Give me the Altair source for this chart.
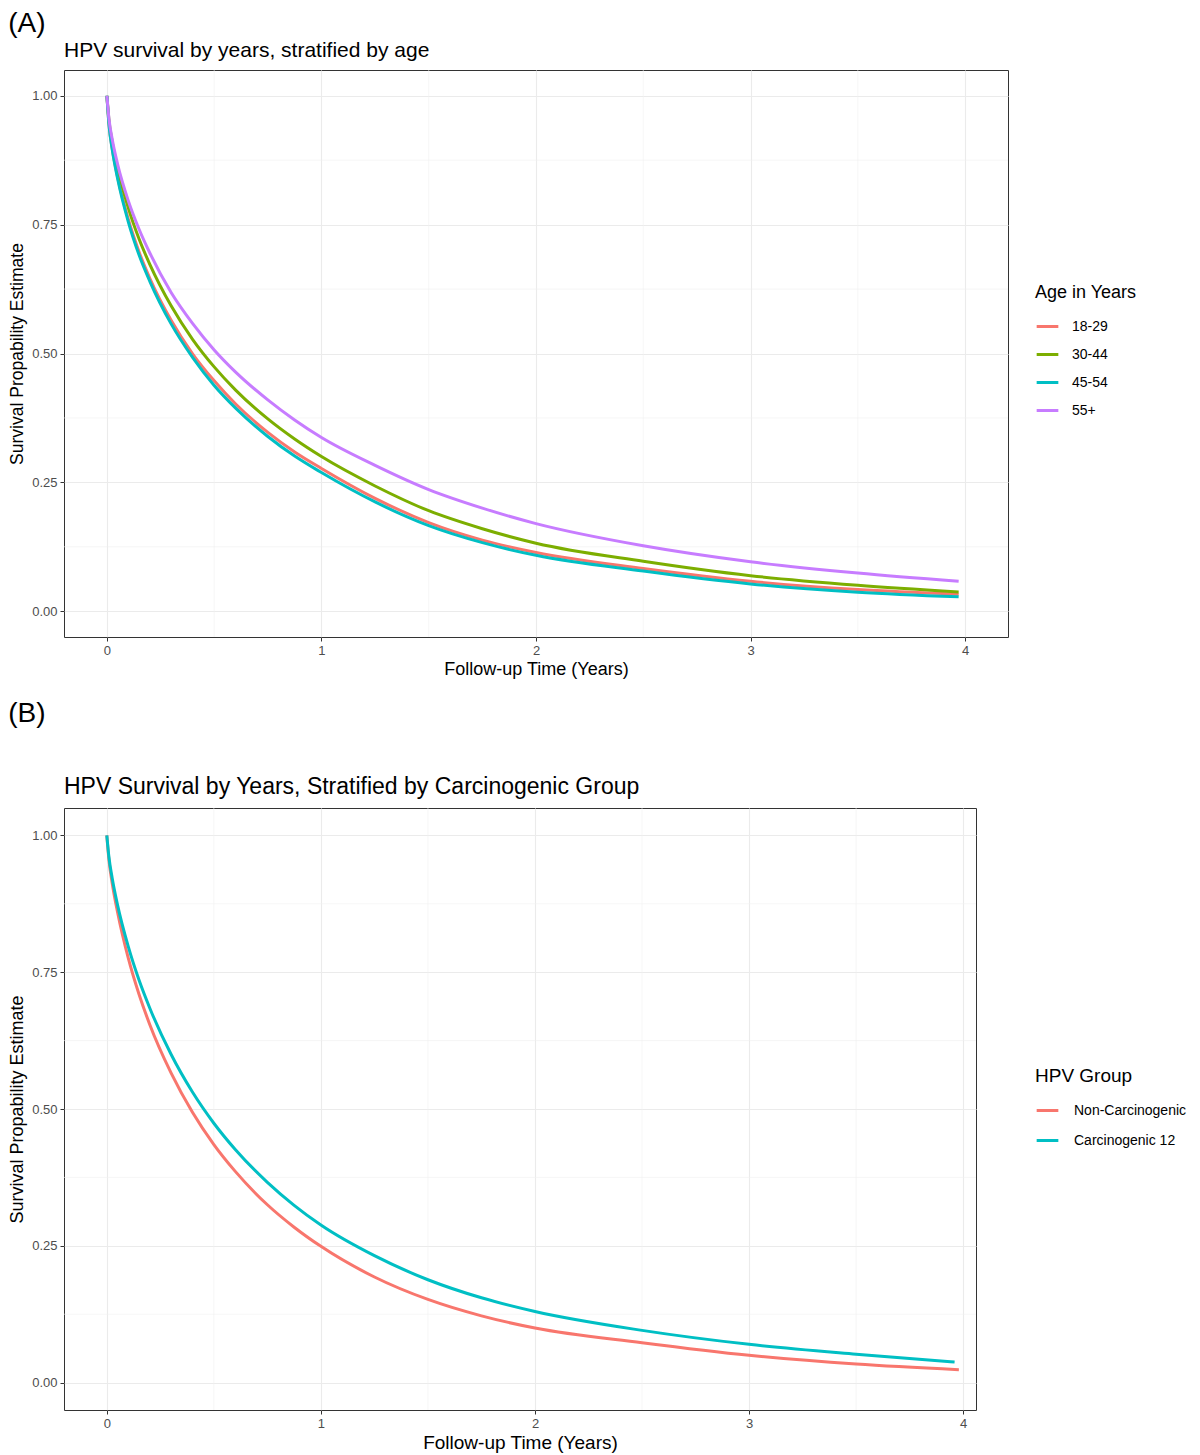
import altair as alt
import pandas as pd

FONT = "Liberation Sans"

# ---- Panel A data ----
TIME_A = [0, 0.01, 0.025, 0.05, 0.1, 0.15, 0.2, 0.3, 0.4, 0.5, 0.6, 0.75, 0.875, 1.0, 1.25, 1.5, 1.75, 2.0, 2.5, 3.0, 3.5, 3.97]
AGE_GROUPS = ["18-29", "30-44", "45-54", "55+"]
AGE_COLORS = ["#F8766D", "#7CAE00", "#00BFC4", "#C77CFF"]
S_18_29 = [1, 0.943, 0.897, 0.842, 0.760, 0.697, 0.646, 0.564, 0.499, 0.447, 0.402, 0.347, 0.309, 0.277, 0.219, 0.172, 0.138, 0.114, 0.083, 0.058, 0.042, 0.033]
S_30_44 = [1, 0.951, 0.910, 0.859, 0.782, 0.722, 0.673, 0.592, 0.527, 0.474, 0.429, 0.373, 0.334, 0.300, 0.243, 0.195, 0.160, 0.132, 0.097, 0.0690, 0.0505, 0.0375]
S_45_54 = [1, 0.942, 0.895, 0.839, 0.755, 0.691, 0.640, 0.557, 0.492, 0.438, 0.394, 0.339, 0.301, 0.269, 0.212, 0.166, 0.133, 0.1085, 0.078, 0.053, 0.037, 0.028]
S_55P = [1, 0.954, 0.915, 0.867, 0.796, 0.741, 0.695, 0.618, 0.558, 0.507, 0.464, 0.410, 0.371, 0.337, 0.283, 0.236, 0.200, 0.170, 0.127, 0.096, 0.074, 0.058]

# ---- Panel B data ----
HPV_GROUPS = ["Non-Carcinogenic", "Carcinogenic 12"]
HPV_COLORS = ["#F8766D", "#00BFC4"]
TIME_B_NON = [0, 0.01, 0.025, 0.05, 0.1, 0.15, 0.2, 0.3, 0.4, 0.5, 0.6, 0.75, 0.875, 1.0, 1.25, 1.5, 1.75, 2.0, 2.5, 3.0, 3.5, 3.98]
S_NON = [1, 0.955, 0.913, 0.860, 0.776, 0.710, 0.655, 0.566, 0.494, 0.435, 0.386, 0.325, 0.284, 0.249, 0.193, 0.152, 0.122, 0.0998, 0.0730, 0.0500, 0.0340, 0.0237]
TIME_B_CARC = [0, 0.01, 0.025, 0.05, 0.1, 0.15, 0.2, 0.3, 0.4, 0.5, 0.6, 0.75, 0.875, 1.0, 1.25, 1.5, 1.75, 2.0, 2.5, 3.0, 3.5, 3.96]
S_CARC = [1, 0.960, 0.922, 0.873, 0.797, 0.736, 0.685, 0.600, 0.531, 0.474, 0.426, 0.366, 0.324, 0.288, 0.232, 0.188, 0.155, 0.130, 0.0955, 0.0700, 0.0520, 0.0377]

X_MAJOR = [0, 1, 2, 3, 4]
X_MINOR = [0.5, 1.5, 2.5, 3.5]
Y_MAJOR = [0, 0.25, 0.5, 0.75, 1.0]
Y_MINOR = [0.125, 0.375, 0.625, 0.875]

rows = []
for g, s in zip(AGE_GROUPS, [S_18_29, S_30_44, S_45_54, S_55P]):
    for t, v in zip(TIME_A, s):
        rows.append({"t": t, "s": v, "group": g})
df_a = pd.DataFrame(rows)

rows = []
for g, tt, s in [(HPV_GROUPS[0], TIME_B_NON, S_NON), (HPV_GROUPS[1], TIME_B_CARC, S_CARC)]:
    for t, v in zip(tt, s):
        rows.append({"t": t, "s": v, "group": g})
df_b = pd.DataFrame(rows)

XT = "Follow-up Time (Years)"
YT = "Survival Propability Estimate"


def panel(df, groups, colors, title, title_size, width, height, xmax,
          legend_title, lx, ly, fs):
    xscale = alt.Scale(domain=[-0.2, xmax], nice=False, zero=False)
    yscale = alt.Scale(domain=[-0.05, 1.05], nice=False, zero=False)
    minor_x = alt.Chart(pd.DataFrame({"t": X_MINOR})).mark_rule(
        color="#f0f0f0", strokeWidth=0.6).encode(
        x=alt.X("t:Q", scale=xscale, title=XT))
    minor_y = alt.Chart(pd.DataFrame({"s": Y_MINOR})).mark_rule(
        color="#f0f0f0", strokeWidth=0.6).encode(
        y=alt.Y("s:Q", scale=yscale, title=YT))
    lines = alt.Chart(df).mark_line(strokeWidth=3, interpolate="monotone").encode(
        x=alt.X("t:Q", scale=xscale,
                axis=alt.Axis(values=X_MAJOR, format="d", title=XT,
                              grid=True, gridColor="#ebebeb", gridWidth=1.1,
                              domain=False, ticks=True, tickColor="#333333",
                              tickSize=4, tickWidth=1, labelColor="#4d4d4d",
                              labelFontSize=fs["tick"], labelPadding=3,
                              titleFontSize=fs["axis"], titleFontWeight="normal",
                              titleColor="#000000", titlePadding=3,
                              labelFont=FONT, titleFont=FONT)),
        y=alt.Y("s:Q", scale=yscale,
                axis=alt.Axis(values=Y_MAJOR, format=".2f", title=YT,
                              grid=True, gridColor="#ebebeb", gridWidth=1.1,
                              domain=False, ticks=True, tickColor="#333333",
                              tickSize=4, tickWidth=1, labelColor="#4d4d4d",
                              labelFontSize=fs["tick"], labelPadding=3,
                              titleFontSize=fs["yaxis"], titleFontWeight="normal",
                              titleColor="#000000", titlePadding=5,
                              labelFont=FONT, titleFont=FONT)),
        color=alt.Color("group:N", sort=groups,
                        scale=alt.Scale(domain=groups, range=colors),
                        legend=alt.Legend(title=legend_title, orient="none",
                                          legendX=lx, legendY=ly, padding=0,
                                          symbolType="stroke", symbolStrokeWidth=3,
                                          symbolSize=470,
                                          titleFontSize=fs["ltitle"],
                                          titleFontWeight="normal", titleColor="#000000",
                                          labelFontSize=fs["llabel"], labelColor="#000000",
                                          titleFont=FONT, labelFont=FONT,
                                          rowPadding=fs["rowpad"], titlePadding=12,
                                          labelOffset=fs["loff"], labelLimit=200)),
    )
    return alt.layer(minor_x, minor_y, lines).properties(
        width=width, height=height,
        title=alt.TitleParams(title, anchor="start", frame="group",
                              fontSize=title_size, fontWeight="normal",
                              font=FONT, color="#000000", offset=9),
    )


fs_a = {"tick": 13, "axis": 18, "yaxis": 17.5, "ltitle": 18, "llabel": 14, "rowpad": 8, "loff": 12}
fs_b = {"tick": 13, "axis": 19, "yaxis": 18, "ltitle": 19, "llabel": 14, "rowpad": 10, "loff": 14}

panel_a = panel(df_a, AGE_GROUPS, AGE_COLORS,
                "HPV survival by years, stratified by age", 21,
                944, 567, 4.2, "Age in Years", 971, 214, fs_a)
panel_b = panel(df_b, HPV_GROUPS, HPV_COLORS,
                "HPV Survival by Years, Stratified by Carcinogenic Group", 23,
                912, 602, 4.06, "HPV Group", 971, 259, fs_b)

block_a = alt.vconcat(panel_a).properties(
    title=alt.TitleParams("(A)", anchor="start", fontSize=28, fontWeight="normal",
                          font=FONT, color="#000000", offset=1))
block_b = alt.vconcat(panel_b).properties(
    title=alt.TitleParams("(B)", anchor="start", fontSize=28, fontWeight="normal",
                          font=FONT, color="#000000", offset=47))

chart = alt.vconcat(block_a, block_b, spacing=21).resolve_scale(
    color="independent"
).configure(
    font=FONT, background="white",
    padding={"top": 2, "left": 0, "right": 0, "bottom": 0}
).configure_view(stroke="#333333", strokeWidth=1)

chart.save("out.html", embed_options={"renderer": "svg", "actions": False})
